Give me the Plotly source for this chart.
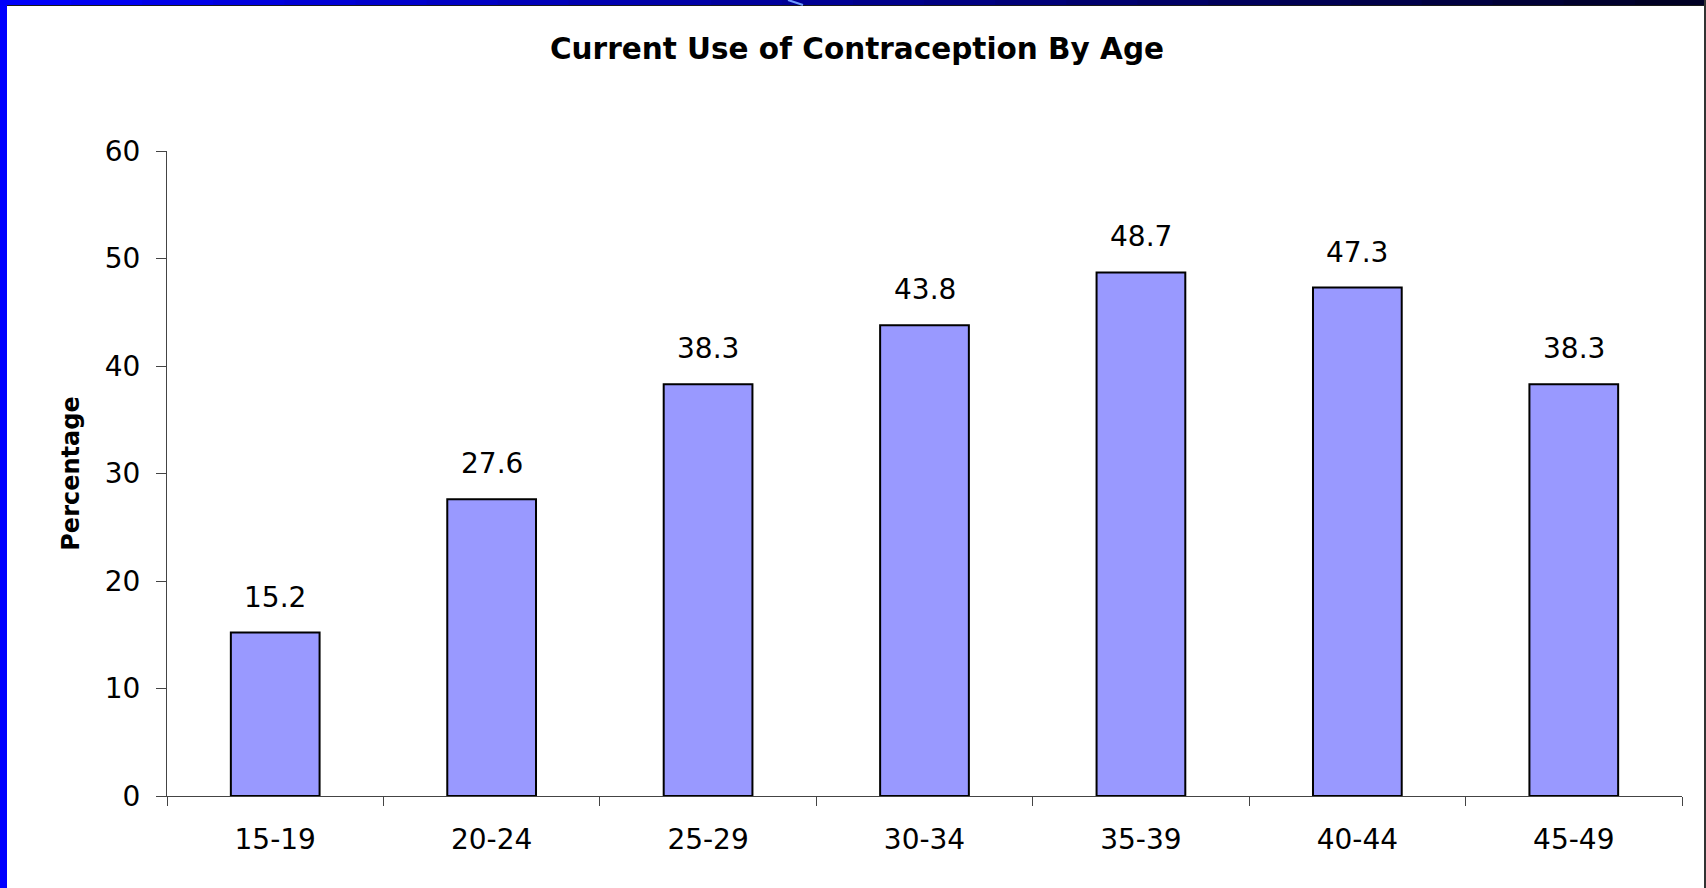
import plotly.graph_objects as go

# ---- data ----
age_groups = ["15-19", "20-24", "25-29", "30-34", "35-39", "40-44", "45-49"]
percentages = [15.2, 27.6, 38.3, 43.8, 48.7, 47.3, 38.3]
y_ticks = [0, 10, 20, 30, 40, 50, 60]

W, H = 1706, 888
L, R, T, B = 167, 24, 151, 92
PW, PH = W - L - R, H - T - B

def fx(px):
    return (px - L) / PW

def fy(py):
    return (H - B - py) / PH

FONT = "DejaVu Sans, Liberation Sans, Arial, sans-serif"

fig = go.Figure()
fig.add_trace(go.Bar(
    x=age_groups,
    y=percentages,
    width=0.41,
    marker=dict(color="#9999FF", line=dict(color="#000000", width=2)),
    hoverinfo="x+y",
    showlegend=False,
))

annotations = []
for cat, val in zip(age_groups, percentages):
    annotations.append(dict(
        x=cat, y=val, xref="x", yref="y",
        text=f"{val:.1f}", showarrow=False,
        yanchor="bottom", yshift=17,
        font=dict(family=FONT, size=28, color="#000000"),
    ))

shapes = []
# left blue border
shapes.append(dict(type="rect", xref="paper", yref="paper",
                   x0=fx(0), x1=fx(7), y0=fy(H), y1=fy(0),
                   fillcolor="#0000FF", line=dict(width=0), layer="above"))
# top gradient border
nseg = 24
for i in range(nseg):
    t0 = i / nseg
    t1 = (i + 1) / nseg
    tm = (t0 + t1) / 2
    b = int(round(255 + (32 - 255) * tm))
    shapes.append(dict(type="rect", xref="paper", yref="paper",
                       x0=fx(t0 * W), x1=fx(t1 * W + 1), y0=fy(5), y1=fy(0),
                       fillcolor=f"rgb(0,0,{b})", line=dict(width=0), layer="above"))
# thin dark line under top border
shapes.append(dict(type="line", xref="paper", yref="paper",
                   x0=fx(7), x1=fx(W), y0=fy(5.5), y1=fy(5.5),
                   line=dict(color="#1a1a1a", width=1), layer="above"))
# light accent stroke in top border
shapes.append(dict(type="line", xref="paper", yref="paper",
                   x0=fx(788), x1=fx(803), y0=fy(0), y1=fy(5),
                   line=dict(color="#6f9cff", width=2), layer="above"))
# right dark edge
shapes.append(dict(type="rect", xref="paper", yref="paper",
                   x0=fx(W - 2), x1=fx(W), y0=fy(H), y1=fy(0),
                   fillcolor="#333333", line=dict(width=0), layer="above"))

fig.update_layout(
    width=W, height=H,
    margin=dict(l=L, r=R, t=T, b=B, autoexpand=False),
    paper_bgcolor="#FFFFFF",
    plot_bgcolor="#FFFFFF",
    title=dict(
        text="<b>Current Use of Contraception By Age</b>",
        x=857 / W, xref="container", xanchor="center",
        y=1 - 49 / H, yref="container", yanchor="middle",
        font=dict(family=FONT, size=29.5, color="#000000"),
    ),
    xaxis=dict(
        type="category",
        tickson="boundaries",
        ticks="outside", ticklen=9, tickwidth=1, tickcolor="#444444",
        showline=True, linecolor="#444444", linewidth=1,
        showgrid=False, zeroline=False,
        tickfont=dict(family=FONT, size=28, color="#000000"),
        ticklabelstandoff=18,
        fixedrange=True,
    ),
    yaxis=dict(
        range=[0, 60],
        tickmode="array", tickvals=y_ticks, ticktext=[str(v) for v in y_ticks],
        ticks="outside", ticklen=10, tickwidth=1, tickcolor="#444444",
        showline=True, linecolor="#444444", linewidth=1,
        showgrid=False, zeroline=False,
        tickfont=dict(family=FONT, size=28, color="#000000"),
        ticklabelstandoff=10,
        title=dict(text="<b>Percentage</b>", standoff=18,
                   font=dict(family=FONT, size=24, color="#000000")),
        fixedrange=True,
    ),
    annotations=annotations,
    shapes=shapes,
    bargap=0.59,
)

fig.write_html(
    "out.html",
    config={"displayModeBar": False},
    post_script="document.body.style.margin='0px';document.body.style.overflow='hidden';",
)
